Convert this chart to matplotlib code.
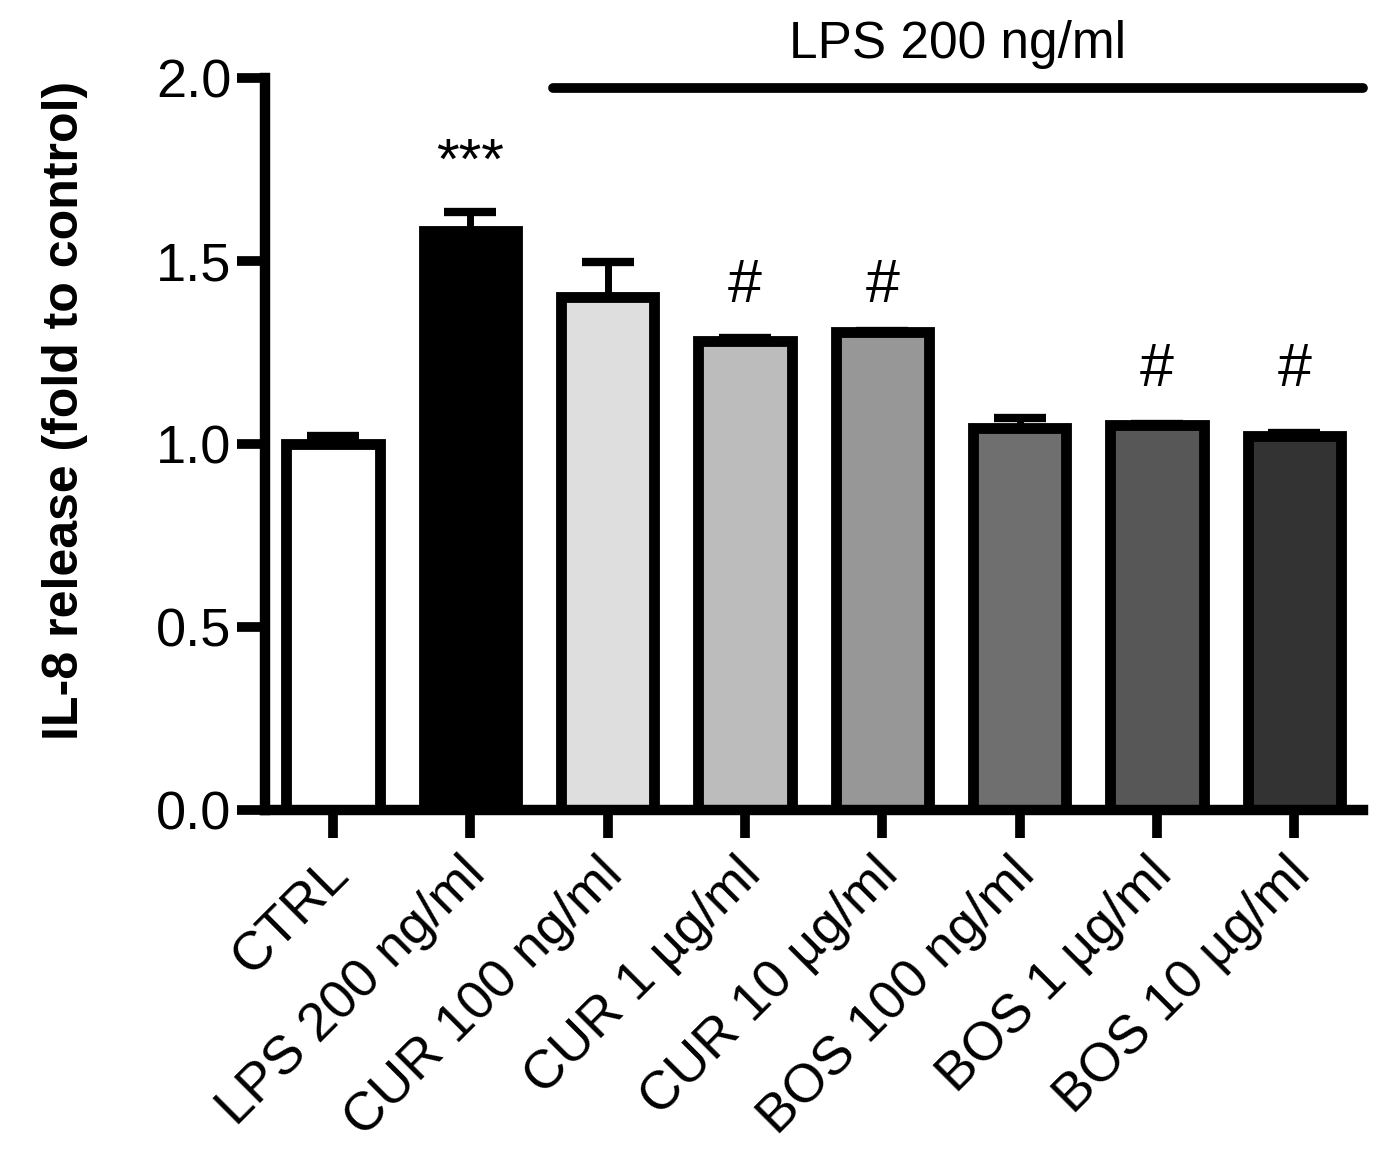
import matplotlib
matplotlib.use("Agg")
import matplotlib.pyplot as plt
import matplotlib.transforms as mtransforms
import numpy as np

categories = ["CTRL", "LPS 200 ng/ml", "CUR 100 ng/ml", "CUR 1 µg/ml", "CUR 10 µg/ml",
              "BOS 100 ng/ml", "BOS 1 µg/ml", "BOS 10 µg/ml"]
values = [1.00, 1.58, 1.40, 1.28, 1.305, 1.043, 1.052, 1.021]
errors = [0.02, 0.053, 0.097, 0.010, 0.003, 0.026, 0.003, 0.007]
colors = ["#ffffff", "#000000", "#dedede", "#bcbcbc", "#979797", "#6f6f6f", "#575757", "#333333"]
annotations = ["", "***", "", "#", "#", "", "#", "#"]
annot_y = [0, 1.765, 0, 1.43, 1.43, 0, 1.20, 1.20]
ylabel = "IL-8 release (fold to control)"
bracket_label = "LPS 200 ng/ml"
yticks = [0.0, 0.5, 1.0, 1.5, 2.0]

plt.rcParams['font.family'] = ['Liberation Sans', 'DejaVu Sans']

fig = plt.figure(figsize=(13.89, 11.53), dpi=100)
W, H = 1389, 1153
ax = fig.add_axes([265 / W, 1 - 810 / H, (1363 - 265) / W, (810 - 77.5) / H])

x = np.arange(len(categories))
lo = [0] * len(values)
ax.errorbar(x, values, yerr=[lo, errors], fmt='none', ecolor='black',
            elinewidth=5, capsize=19, capthick=6, zorder=1)
ax.bar(x, values, width=0.68, color=colors, edgecolor='black', linewidth=7.8, zorder=2)

for xi, a, ya in zip(x, annotations, annot_y):
    if a:
        fs = 42 if a == "***" else 44
        ax.text(xi, ya, a, ha='center', va='center', fontsize=fs, zorder=3)

ax.set_xlim(-0.495, 7.5)
ax.set_ylim(0, 2.0)
ax.set_yticks(yticks)
ax.set_yticklabels([f"{v:.1f}" for v in yticks])
ax.set_xticks(x)
ax.set_xticklabels(categories, rotation=45, ha='right', va='top', rotation_mode='anchor')

for s in ['top', 'right']:
    ax.spines[s].set_visible(False)
for s in ['left', 'bottom']:
    ax.spines[s].set_linewidth(7.5)
    ax.spines[s].set_capstyle('projecting')

ax.tick_params(axis='both', direction='out', length=20, width=7, labelsize=39, pad=4)
ax.tick_params(axis='x', labelsize=39, pad=8)

offset = mtransforms.ScaledTranslation(-10 / 100, 0, fig.dpi_scale_trans)
for lab in ax.get_xticklabels():
    lab.set_transform(lab.get_transform() + offset)

ax.set_ylabel(ylabel, fontsize=36, fontweight='bold')
ax.yaxis.set_label_coords((88 - 265) / (1363 - 265), 0.545)

# LPS bracket line
ax.plot([1.6, 7.5], [1.97, 1.97], color='black', linewidth=7, solid_capstyle='round', clip_on=False)
ax.text(4.55, 2.09, bracket_label, ha='center', va='center', fontsize=37, clip_on=False)

fig.savefig("out.png", dpi=100)
